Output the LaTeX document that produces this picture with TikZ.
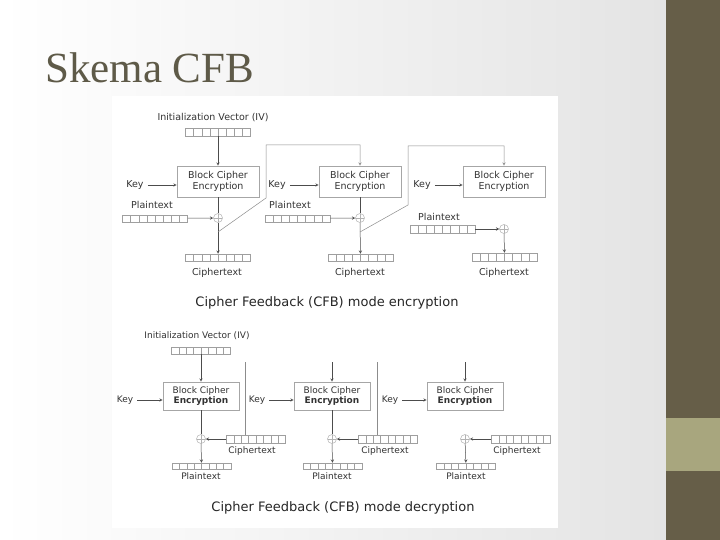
\documentclass[tikz,border=0pt]{standalone}
\usepackage{fontspec}
\setmainfont{Liberation Serif}
\newfontfamily\diagfont{DejaVu Sans}
\usepackage{tikz}
\usetikzlibrary{arrows, calc, positioning}
\definecolor{slidebar}{RGB}{102,94,72}
\definecolor{slideaccent}{RGB}{168,166,126}
\definecolor{titlebrown}{RGB}{94,90,72}
\definecolor{bggray}{RGB}{228,228,228}

\begin{document}
\begin{tikzpicture}[x=1pt, y=-1pt]
    % Styles
    \tikzstyle{txt} = [font=\diagfont\fontsize{9.5}{11}\selectfont, text=black!80, inner sep=0pt]
    \tikzstyle{txtd} = [font=\diagfont\fontsize{9}{10.5}\selectfont, text=black!80, inner sep=0pt]
    \tikzstyle{block} = [rectangle, draw=gray!70, line width=0.6pt, fill=white, align=center, inner sep=0pt, minimum width=82pt, minimum height=31pt, font=\diagfont\fontsize{9.5}{11}\selectfont, text=black!80]
    \tikzstyle{blockd} = [block, minimum width=76pt, minimum height=28pt, font=\diagfont\fontsize{9}{10.5}\selectfont]
    \tikzstyle{reg} = [rectangle, draw=gray!75, line width=0.5pt, inner sep=0pt, minimum width=65pt, minimum height=8pt,
        path picture={\foreach \i in {1,...,7}{\draw[gray!75, line width=0.5pt]
            ($(path picture bounding box.south west)!\i/8!(path picture bounding box.south east)$) --
            ($(path picture bounding box.north west)!\i/8!(path picture bounding box.north east)$);}}]
    \tikzstyle{regd} = [reg, minimum width=59pt, minimum height=7pt]
    \tikzstyle{xorop} = [circle, draw=gray!60, line width=0.5pt, minimum size=9pt, inner sep=0pt,
        path picture={\draw[gray!60, line width=0.4pt] (path picture bounding box.north) -- (path picture bounding box.south)
            (path picture bounding box.west) -- (path picture bounding box.east);}]
    \tikzstyle{arrow} = [->, >=stealth, black!70, line width=0.5pt]
    \tikzstyle{wire} = [black!70, line width=0.5pt]
    \tikzstyle{fbwire} = [black!45, line width=0.5pt]

    % Slide
    \useasboundingbox (0,0) rectangle (720,540);
    \shade[left color=white, right color=bggray] (0,0) rectangle (666,540);
    \fill[slidebar] (666,0) rectangle (720,540);
    \fill[slideaccent] (666,418) rectangle (720,471);
    \fill[white] (112,96) rectangle (558,528);
    \node[anchor=base west, font=\fontsize{43}{50}\selectfont, text=titlebrown, inner sep=0pt] (title) at (45,83) {Skema CFB};

    % Encryption - nodes
    \node[txt] (ivE) at (213,118) {Initialization Vector (IV)};
    \node[reg] (ivregE) at (218,132) {};
    \node[block] (blkE1) at (218,181.5) {Block Cipher\\Encryption};
    \node[block] (blkE2) at (360,181.5) {Block Cipher\\Encryption};
    \node[block] (blkE3) at (504,181.5) {Block Cipher\\Encryption};
    \node[txt] (keyE1) at (135,185) {Key};
    \node[txt] (keyE2) at (277,185) {Key};
    \node[txt] (keyE3) at (422,185) {Key};
    \node[txt] (ptE1) at (152,205) {Plaintext};
    \node[txt] (ptE2) at (290,205) {Plaintext};
    \node[txt] (ptE3) at (439,217) {Plaintext};
    \node[reg, minimum height=7pt] (ptregE1) at (155,218.5) {};
    \node[reg, minimum height=7pt] (ptregE2) at (297.5,218.5) {};
    \node[reg] (ptregE3) at (442.5,229) {};
    \node[xorop] (xorE1) at (218,218) {};
    \node[xorop] (xorE2) at (360,218) {};
    \node[xorop] (xorE3) at (504,229) {};
    \node[reg, minimum height=7pt] (ctregE1) at (218,257.5) {};
    \node[reg, minimum height=7pt] (ctregE2) at (360.5,257.5) {};
    \node[reg] (ctregE3) at (504.5,257) {};
    \node[txt] (ctE1) at (217,273) {Ciphertext};
    \node[txt] (ctE2) at (360,273) {Ciphertext};
    \node[txt] (ctE3) at (504,273) {Ciphertext};
    \node[font=\diagfont\fontsize{13}{15}\selectfont, text=black!85, inner sep=0pt] (capE) at (327,303) {Cipher Feedback (CFB) mode encryption};
    \coordinate (fbE1) at (218,232);
    \coordinate (fbE2) at (360,232);

    % Encryption - arrows
    \draw[arrow] (ivregE) -- (blkE1);
    \foreach \n in {1,2,3}
        \draw[arrow, shorten <=4pt] (keyE\n.east) -- (keyE\n.east -| blkE\n.west);
    \foreach \n in {1,2,3}
        \draw[arrow] (ptregE\n) -- (xorE\n);
    \draw[wire] (blkE1) -- (xorE1);
    \draw[wire] (blkE2) -- (xorE2);
    \draw[arrow] (xorE1) -- (ctregE1);
    \draw[arrow] (xorE2) -- (ctregE2);
    \draw[arrow] (xorE3) -- (ctregE3);
    \draw[arrow, fbwire] (fbE1) -- (266,198) -- (266,145) -- (blkE2.north |- 0,145) -- (blkE2);
    \draw[arrow, fbwire] (fbE2) -- (408,205) -- (408,146) -- (blkE3.north |- 0,146) -- (blkE3);

    % Decryption - nodes
    \node[txtd] (ivD) at (197,336) {Initialization Vector (IV)};
    \node[regd] (ivregD) at (201,350.5) {};
    \node[blockd] (blkD1) at (201,396) {Block Cipher\\\textbf{Encryption}};
    \node[blockd] (blkD2) at (332,396) {Block Cipher\\\textbf{Encryption}};
    \node[blockd] (blkD3) at (465,396) {Block Cipher\\\textbf{Encryption}};
    \node[txtd] (keyD1) at (125,400) {Key};
    \node[txtd] (keyD2) at (257,400) {Key};
    \node[txtd] (keyD3) at (390,400) {Key};
    \node[xorop] (xorD1) at (201,439) {};
    \node[xorop] (xorD2) at (332,439) {};
    \node[xorop] (xorD3) at (465,439) {};
    \node[regd, minimum height=8pt] (ctregD1) at (256,439) {};
    \node[regd, minimum height=8pt] (ctregD2) at (388,439) {};
    \node[regd, minimum height=8pt] (ctregD3) at (521,439) {};
    \node[txtd] (ctD1) at (252,451) {Ciphertext};
    \node[txtd] (ctD2) at (385,451) {Ciphertext};
    \node[txtd] (ctD3) at (517,451) {Ciphertext};
    \node[regd, minimum height=6pt] (ptregD1) at (201.5,466) {};
    \node[regd, minimum height=6pt] (ptregD2) at (332.5,466) {};
    \node[regd, minimum height=6pt] (ptregD3) at (466,466) {};
    \node[txtd] (ptD1) at (201,476) {Plaintext};
    \node[txtd] (ptD2) at (332,476) {Plaintext};
    \node[txtd] (ptD3) at (466,476) {Plaintext};
    \node[font=\diagfont\fontsize{13}{15}\selectfont, text=black!85, inner sep=0pt] (capD) at (343,508) {Cipher Feedback (CFB) mode decryption};
    \coordinate (fbD1) at (245,362);
    \coordinate (fbD2) at (377,362);
    \coordinate (inD2) at (332,362);
    \coordinate (inD3) at (465,362);

    % Decryption - arrows
    \draw[arrow] (ivregD) -- (blkD1);
    \foreach \n in {1,2,3}
        \draw[arrow, shorten <=4pt] (keyD\n.east) -- (keyD\n.east -| blkD\n.west);
    \foreach \n in {1,2,3}
        \draw[arrow] (ctregD\n) -- (xorD\n);
    \draw[wire] (blkD1) -- (xorD1);
    \draw[wire] (blkD2) -- (xorD2);
    \foreach \n in {1,2,3}
        \draw[arrow] (xorD\n) -- (ptregD\n);
    \draw[fbwire] (ctregD1.north -| fbD1) -- (fbD1);
    \draw[fbwire] (ctregD2.north -| fbD2) -- (fbD2);
    \draw[arrow] (inD2) -- (blkD2);
    \draw[arrow] (inD3) -- (blkD3);
\end{tikzpicture}
\end{document}
